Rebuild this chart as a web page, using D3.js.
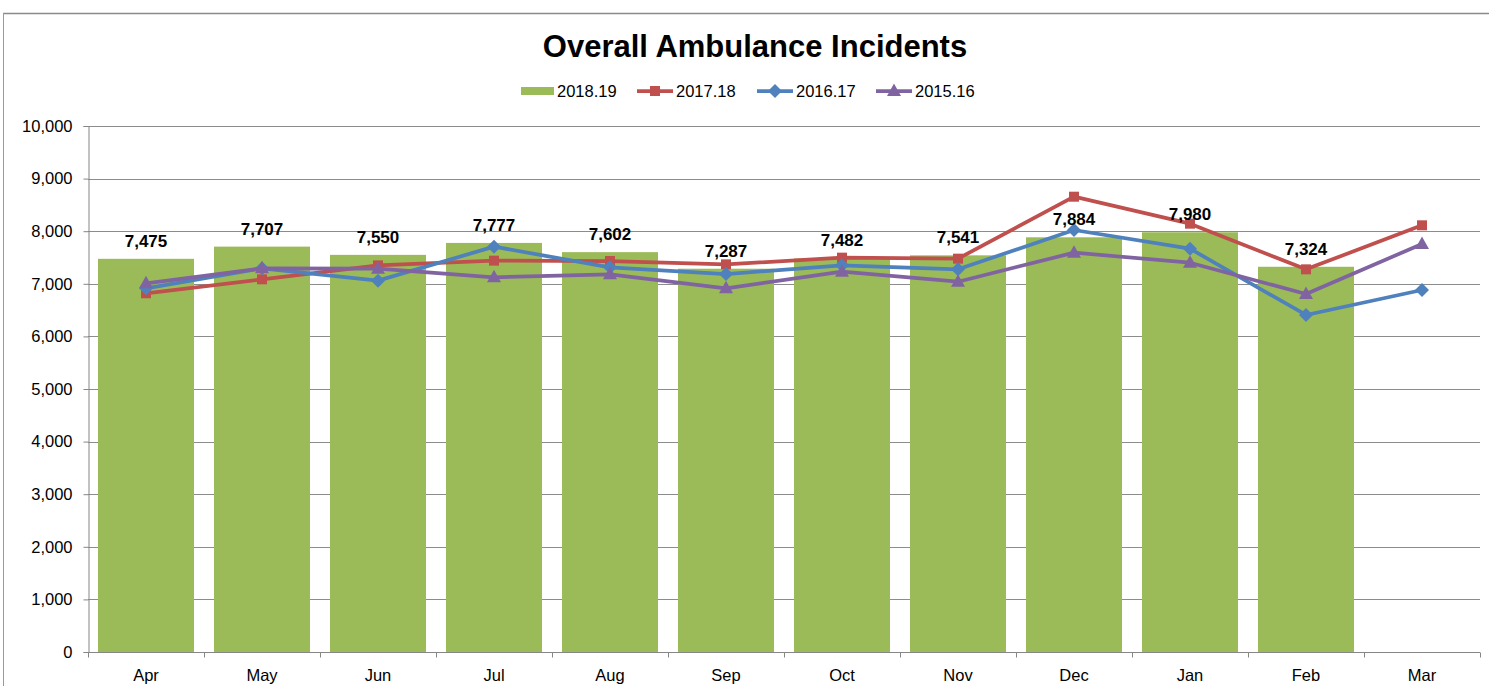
<!DOCTYPE html>
<html>
<head>
<meta charset="utf-8">
<script src="https://cdn.jsdelivr.net/npm/d3@7"></script>
<style>
  html, body { margin: 0; padding: 0; background: #fff; }
  svg { display: block; font-family: "Liberation Sans", Arial, sans-serif; }
</style>
</head>
<body>
<svg id="chart" width="1489" height="686"></svg>
<script>
// Monthly incident counts by financial year
const months = ["Apr", "May", "Jun", "Jul", "Aug", "Sep", "Oct", "Nov", "Dec", "Jan", "Feb", "Mar"];
const fy1819 = [7475, 7707, 7550, 7777, 7602, 7287, 7482, 7541, 7884, 7980, 7324, null];
const fy1718 = [6820, 7085, 7350, 7440, 7433, 7370, 7497, 7478, 8656, 8143, 7275, 8112];
const fy1617 = [6914, 7294, 7060, 7706, 7313, 7186, 7352, 7275, 8023, 7667, 6407, 6882];
const fy1516 = [7009, 7294, 7288, 7124, 7180, 6914, 7231, 7040, 7592, 7401, 6806, 7757];
const yTicks = [0, 1000, 2000, 3000, 4000, 5000, 6000, 7000, 8000, 9000, 10000];

const lineSeries = [
  { name: "2017.18", values: fy1718, color: "#C0504D", marker: "square" },
  { name: "2016.17", values: fy1617, color: "#4F81BD", marker: "diamond" },
  { name: "2015.16", values: fy1516, color: "#8064A2", marker: "triangle" }
];
const barColor = "#9BBB59";

const svg = d3.select("#chart");
const fmt = d3.format(",");

// Outer frame of the chart area
svg.append("line").attr("x1", 3).attr("x2", 1489).attr("y1", 13.5).attr("y2", 13.5)
  .attr("stroke", "#8a8a8a").attr("stroke-width", 1.5);
svg.append("line").attr("x1", 3.5).attr("x2", 3.5).attr("y1", 13).attr("y2", 686)
  .attr("stroke", "#9a9a9a").attr("stroke-width", 1);

const plot = { left: 88, right: 1480, top: 126, bottom: 652 };

const x = d3.scaleBand().domain(months).range([plot.left, plot.right])
  .paddingInner(20 / 116).paddingOuter(10 / 116);
const y = d3.scaleLinear().domain([0, 10000]).range([plot.bottom, plot.top]);

// Horizontal gridlines
svg.append("g").selectAll("line").data(yTicks.filter(d => d > 0)).join("line")
  .attr("x1", plot.left).attr("x2", plot.right)
  .attr("y1", d => Math.round(y(d)) + 0.5).attr("y2", d => Math.round(y(d)) + 0.5)
  .attr("stroke", "#8c8c8c").attr("stroke-width", 1);

// Bars for the current year
svg.append("g").selectAll("rect").data(months.map((m, i) => ({ m, v: fy1819[i] })).filter(d => d.v != null))
  .join("rect")
  .attr("x", d => x(d.m)).attr("width", x.bandwidth())
  .attr("y", d => y(d.v)).attr("height", d => y(0) - y(d.v))
  .attr("fill", barColor);

// Y axis
const yAxis = svg.append("g").attr("transform", `translate(${plot.left + 0.5},0)`)
  .call(d3.axisLeft(y).tickValues(yTicks).tickFormat(fmt).tickSize(5).tickPadding(11));
yAxis.select(".domain").attr("stroke", "#868686");
yAxis.selectAll(".tick line").attr("stroke", "#868686");
yAxis.selectAll(".tick text").attr("font-size", 16.5).attr("fill", "#000")
  .attr("font-family", "Liberation Sans, Arial, sans-serif");

// X axis with ticks on category boundaries
const xg = svg.append("g").attr("transform", `translate(0,${plot.bottom + 0.5})`);
xg.append("line").attr("x1", plot.left).attr("x2", plot.right).attr("stroke", "#868686");
const step = x.step();
xg.selectAll("line.tk").data(d3.range(months.length + 1)).join("line").attr("class", "tk")
  .attr("x1", i => Math.round(plot.left + i * step) + 0.5).attr("x2", i => Math.round(plot.left + i * step) + 0.5)
  .attr("y1", 0).attr("y2", 5).attr("stroke", "#868686");
xg.selectAll("text").data(months).join("text")
  .attr("x", d => x(d) + x.bandwidth() / 2).attr("y", 28.5)
  .attr("text-anchor", "middle").attr("font-size", 16.5).attr("fill", "#000").text(d => d);

// Marker shapes
function markerPath(type) {
  if (type === "square") return d3.symbol(d3.symbolSquare, 100)();
  if (type === "diamond") return "M0,-7L7,0L0,7L-7,0Z";
  return "M0,-7.5L7,5L-7,5Z";
}

// Lines for previous years
const line = d3.line().x((d, i) => x(months[i]) + x.bandwidth() / 2).y(d => y(d));
lineSeries.forEach(s => {
  const g = svg.append("g");
  g.append("path").datum(s.values).attr("d", line)
    .attr("fill", "none").attr("stroke", s.color).attr("stroke-width", 3.75)
    .attr("stroke-linejoin", "round");
  g.selectAll("path.mk").data(s.values).join("path").attr("class", "mk")
    .attr("transform", (d, i) => `translate(${x(months[i]) + x.bandwidth() / 2},${y(d)})`)
    .attr("d", markerPath(s.marker)).attr("fill", s.color);
});

// Value labels above the bars
svg.append("g").selectAll("text").data(months.map((m, i) => ({ m, v: fy1819[i] })).filter(d => d.v != null))
  .join("text")
  .attr("x", d => x(d.m) + x.bandwidth() / 2).attr("y", d => y(d.v) - 12)
  .attr("text-anchor", "middle").attr("font-size", 17).attr("font-weight", "bold").attr("fill", "#000")
  .text(d => fmt(d.v));

// Title
svg.append("text").attr("x", 755).attr("y", 57).attr("text-anchor", "middle")
  .attr("font-size", 31).attr("font-weight", "bold").attr("fill", "#000")
  .text("Overall Ambulance Incidents");

// Legend
const legend = svg.append("g").attr("transform", "translate(0,91)");
const legItems = [{ name: "2018.19", color: barColor, marker: "bar", x: 521 }]
  .concat(lineSeries.map((s, i) => ({ name: s.name, color: s.color, marker: s.marker, x: [637, 757, 876][i] })));
legItems.forEach(it => {
  const g = legend.append("g").attr("transform", `translate(${it.x},0)`);
  if (it.marker === "bar") {
    g.append("rect").attr("x", 0).attr("y", -4).attr("width", 33).attr("height", 8).attr("fill", it.color);
  } else {
    g.append("line").attr("x1", 0).attr("x2", 36).attr("y1", 0).attr("y2", 0)
      .attr("stroke", it.color).attr("stroke-width", 3.75);
    g.append("path").attr("transform", "translate(18,0)").attr("d", markerPath(it.marker)).attr("fill", it.color);
  }
  g.append("text").attr("x", it.marker === "bar" ? 36 : 39).attr("y", 6)
    .attr("font-size", 16.5).attr("fill", "#000").text(it.name);
});
</script>
</body>
</html>
